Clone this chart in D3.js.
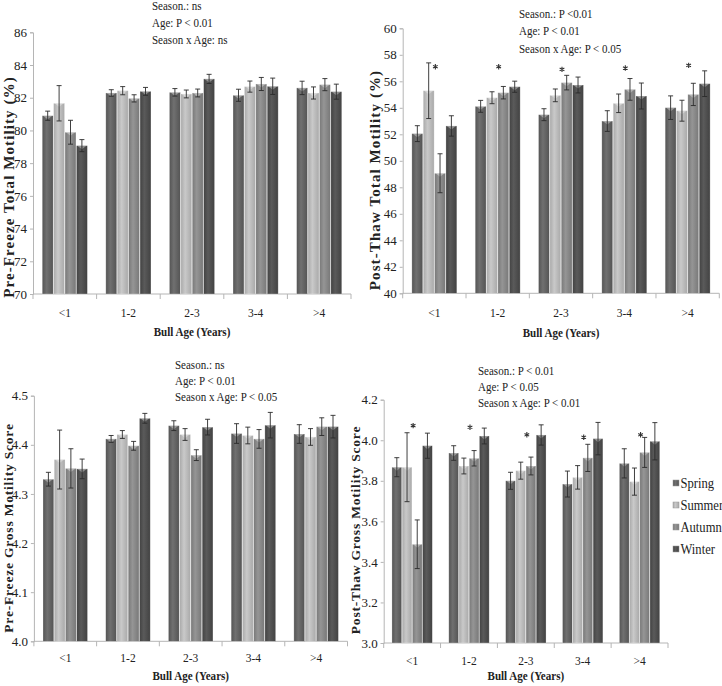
<!DOCTYPE html>
<html>
<head>
<meta charset="utf-8">
<script src="https://cdn.jsdelivr.net/npm/d3@7"></script>
<style>
  body { margin: 0; background: #fff; }
  svg { display: block; }
  svg text { font-family: "Liberation Serif", "DejaVu Serif", serif !important; fill: #222; }
</style>
</head>
<body>
<div id="chart"></div>
<script>
///////////////////////////////////////////////////////////////////////////
//////////////////////////////// Data /////////////////////////////////////
///////////////////////////////////////////////////////////////////////////

var ages = ["<1", "1-2", "2-3", "3-4", ">4"];
var seasons = ["Spring", "Summer", "Autumn", "Winter"];

//Pre-freeze total motility (%), one row per age group, Spring..Winter
var preTotalMean = [
	[80.9, 81.66, 79.89, 79.07],
	[82.29, 82.43, 81.96, 82.39],
	[82.33, 82.23, 82.29, 83.15],
	[82.15, 82.68, 82.84, 82.7],
	[82.6, 82.29, 82.8, 82.37]
];
var preTotalErr = [
	[0.28, 1.08, 0.73, 0.37],
	[0.2, 0.25, 0.22, 0.24],
	[0.23, 0.24, 0.24, 0.28],
	[0.37, 0.34, 0.4, 0.5],
	[0.41, 0.37, 0.37, 0.46]
];

//Post-thaw total motility (%)
var postTotalMean = [
	[52.05, 55.29, 49.06, 52.63],
	[54.11, 54.76, 55.14, 55.59],
	[53.48, 54.94, 55.9, 55.72],
	[53.0, 54.34, 55.39, 54.89],
	[54.01, 53.78, 55.01, 55.82]
];
var postTotalErr = [
	[0.6, 2.1, 1.47, 0.77],
	[0.45, 0.45, 0.47, 0.42],
	[0.45, 0.48, 0.55, 0.6],
	[0.78, 0.7, 0.82, 0.98],
	[0.89, 0.79, 0.84, 0.97]
];
var postTotalStars = [57.1, 57.1, 56.9, 57.0, 57.2];

//Pre-freeze gross motility score
var preGrossMean = [
	[4.33, 4.37, 4.352, 4.351],
	[4.412, 4.421, 4.398, 4.454],
	[4.439, 4.421, 4.379, 4.436],
	[4.423, 4.419, 4.412, 4.44],
	[4.422, 4.416, 4.437, 4.437]
];
var preGrossErr = [
	[0.014, 0.06, 0.04, 0.02],
	[0.007, 0.008, 0.009, 0.01],
	[0.01, 0.012, 0.011, 0.016],
	[0.02, 0.017, 0.019, 0.026],
	[0.019, 0.017, 0.018, 0.023]
];

//Post-thaw gross motility score
var postGrossMean = [
	[3.867, 3.867, 3.487, 3.973],
	[3.937, 3.873, 3.911, 4.021],
	[3.8, 3.85, 3.873, 4.026],
	[3.784, 3.817, 3.913, 4.008],
	[3.886, 3.796, 3.94, 3.995]
];
var postGrossErr = [
	[0.047, 0.17, 0.12, 0.062],
	[0.036, 0.039, 0.038, 0.039],
	[0.042, 0.042, 0.044, 0.05],
	[0.064, 0.058, 0.067, 0.08],
	[0.072, 0.067, 0.074, 0.092]
];
var postGrossStars = [4.072, 4.064, 4.027, 4.015, 4.027];

///////////////////////////////////////////////////////////////////////////
//////////////////////////// Set up the SVG ///////////////////////////////
///////////////////////////////////////////////////////////////////////////

var width = 722, height = 686;

var svg = d3.select("#chart").append("svg")
	.attr("width", width)
	.attr("height", height);

//Bar colours: edge, middle
var seasonColors = {
	Spring: ["#545454", "#707070"],
	Summer: ["#a9a9a9", "#c9c9c9"],
	Autumn: ["#787878", "#959595"],
	Winter: ["#424242", "#5a5a5a"]
};

var defs = svg.append("defs");
seasons.forEach(function(s) {
	var g = defs.append("linearGradient")
		.attr("id", "grad-" + s)
		.attr("x1", 0).attr("y1", 0)
		.attr("x2", 1).attr("y2", 0);
	g.append("stop").attr("offset", "0%").attr("stop-color", seasonColors[s][0]);
	g.append("stop").attr("offset", "40%").attr("stop-color", seasonColors[s][1]);
	g.append("stop").attr("offset", "100%").attr("stop-color", seasonColors[s][0]);
});

var squeeze = 0.88;

//Horizontal text drawn a bit condensed, like the reference
function addText(parent, x, y, str, opts) {
	opts = opts || {};
	return parent.append("text")
		.attr("transform", "translate(" + x + "," + y + ") scale(" + (opts.sx || squeeze) + ",1)")
		.attr("text-anchor", opts.anchor || "start")
		.style("font-size", (opts.size || 12.5) + "px")
		.style("font-weight", opts.bold ? "bold" : null)
		.text(str);
}

//Small six-armed star for the significance marks
var star = d3.symbol().type(d3.symbolAsterisk).size(20);

///////////////////////////////////////////////////////////////////////////
/////////////////////////// Panel settings ////////////////////////////////
///////////////////////////////////////////////////////////////////////////

var panels = [
	{ mean: preTotalMean, err: preTotalErr, x0: 33, x1: 351, yTop: 32.3, yBot: 294,
	  domain: [70, 86], step: 2, fmt: "d",
	  ytitle: "Pre-Freeze Total Motility (%)", ytX: 13.5, ytY: 187, ytSize: 15, ytSpace: 1.1,
	  notes: ["Season.: ns", "Age: P < 0.01", "Season x Age: ns"], nx: 152, ny: 10, nstep: 17,
	  catY: 317, titleY: 336 },
	{ mean: postTotalMean, err: postTotalErr, stars: postTotalStars, x0: 402.7, x1: 719.3, yTop: 28.3, yBot: 293.3,
	  domain: [40, 60], step: 2, fmt: "d",
	  ytitle: "Post-Thaw Total Motility (%)", ytX: 379.5, ytY: 180, ytSize: 15, ytSpace: 1.1,
	  notes: ["Season.: P <0.01", "Age: P < 0.01", "Season x Age: P < 0.05"], nx: 519, ny: 17.5, nstep: 17.5,
	  catY: 317, titleY: 337 },
	{ mean: preGrossMean, err: preGrossErr, x0: 33.9, x1: 347.5, yTop: 395.7, yBot: 641.3,
	  domain: [4.0, 4.5], step: 0.1, fmt: ".1f",
	  ytitle: "Pre-Freeze Gross Motility Score", ytX: 13, ytY: 528, ytSize: 13.5, ytSpace: 0.8,
	  notes: ["Season.: ns", "Age: P < 0.01", "Season x Age: P < 0.05"], nx: 175, ny: 369, nstep: 16,
	  catY: 662, titleY: 680 },
	{ mean: postGrossMean, err: postGrossErr, stars: postGrossStars, x0: 383.7, x1: 668, yTop: 399.7, yBot: 643,
	  domain: [3.0, 4.2], step: 0.2, fmt: ".1f",
	  ytitle: "Post-Thaw Gross Motility Score", ytX: 360, ytY: 530, ytSize: 13.5, ytSpace: 0.8,
	  notes: ["Season.: P < 0.01", "Age: P < 0.05", "Season x Age: P < 0.01"], nx: 478, ny: 375, nstep: 16,
	  catY: 665, titleY: 680 }
];

panels.forEach(drawPanel);

///////////////////////////////////////////////////////////////////////////
///////////////////////////////// Legend //////////////////////////////////
///////////////////////////////////////////////////////////////////////////

var legend = svg.append("g").attr("class", "legend");
seasons.forEach(function(s, i) {
	var ly = 483.5 + i * 22;
	legend.append("rect")
		.attr("x", 673).attr("y", ly - 3.5)
		.attr("width", 6).attr("height", 6)
		.style("fill", "url(#grad-" + s + ")")
		.style("stroke", "#999").style("stroke-width", 0.5);
	addText(legend, 680.5, ly + 4.5, s, { size: 14, sx: 0.9 });
});

///////////////////////////////////////////////////////////////////////////
////////////////////// Function to draw one panel /////////////////////////
///////////////////////////////////////////////////////////////////////////

function drawPanel(p) {

	var g = svg.append("g");

	var x = d3.scaleBand()
		.domain(ages)
		.range([p.x0, p.x1])
		.paddingInner(0.29)
		.paddingOuter(0.145);

	var xs = d3.scaleBand()
		.domain(seasons)
		.range([0, x.bandwidth()])
		.paddingInner(0.04);

	var y = d3.scaleLinear()
		.domain(p.domain)
		.range([p.yBot, p.yTop]);

	var catStep = (p.x1 - p.x0) / ages.length;

	//Y axis
	var tickVals = d3.range(p.domain[0], p.domain[1] + p.step / 2, p.step);
	var yAxis = g.append("g")
		.attr("transform", "translate(" + p.x0 + ",0)")
		.call(d3.axisLeft(y).tickValues(tickVals).tickFormat(d3.format(p.fmt)).tickSize(3).tickPadding(3));
	yAxis.attr("font-family", null);
	yAxis.select(".domain").attr("stroke", "#b5b5b5");
	yAxis.selectAll(".tick line").attr("stroke", "#b5b5b5");
	yAxis.selectAll(".tick text")
		.style("font-size", "13px")
		.attr("fill", "#333");

	//X axis line and boundary ticks
	g.append("line")
		.attr("x1", p.x0).attr("x2", p.x1)
		.attr("y1", p.yBot).attr("y2", p.yBot)
		.attr("stroke", "#b5b5b5");
	g.selectAll(".xtick")
		.data(d3.range(ages.length + 1))
		.enter().append("line")
		.attr("x1", function(i) { return p.x0 + i * catStep; })
		.attr("x2", function(i) { return p.x0 + i * catStep; })
		.attr("y1", p.yBot).attr("y2", p.yBot + 5)
		.attr("stroke", "#b5b5b5");

	//Category labels
	ages.forEach(function(a) {
		addText(g, x(a) + x.bandwidth() / 2, p.catY, a, { anchor: "middle", size: 13.5, sx: 0.85 });
	});

	//Axis titles
	addText(g, (p.x0 + p.x1) / 2, p.titleY, "Bull Age (Years)", { anchor: "middle", bold: true, size: 13, sx: 0.85 });

	g.append("text")
		.attr("transform", "translate(" + p.ytX + "," + p.ytY + ") rotate(-90)")
		.attr("text-anchor", "middle")
		.style("font-size", p.ytSize + "px")
		.style("font-weight", "bold")
		.style("letter-spacing", p.ytSpace + "px")
		.text(p.ytitle);

	//Bars
	var groups = g.selectAll(".age-group")
		.data(p.mean)
		.enter().append("g")
		.attr("class", "age-group")
		.attr("transform", function(d, i) { return "translate(" + x(ages[i]) + ",0)"; });

	groups.each(function(row, ai) {
		var grp = d3.select(this);
		row.forEach(function(v, si) {
			var s = seasons[si];
			var bx = xs(s), bw = xs.bandwidth();
			var top = y(v);
			grp.append("rect")
				.attr("x", bx).attr("y", top)
				.attr("width", bw).attr("height", p.yBot - top)
				.style("fill", "url(#grad-" + s + ")")
				.style("stroke", "rgba(255,255,255,0.45)")
				.style("stroke-width", 0.6);
			//light cap on top of the cylinder
			grp.append("path")
				.attr("d", "M" + (bx + 0.8) + "," + top + "L" + (bx + bw - 0.8) + "," + top +
					"L" + (bx + bw * 0.5) + "," + (top + 3.5) + "Z")
				.style("fill", "#fff")
				.style("opacity", 0.35);

			//Error bar
			var e = p.err[ai][si];
			var cx = bx + bw / 2;
			var eg = grp.append("g").attr("stroke", "#2a2a2a").attr("stroke-width", 0.9);
			eg.append("line").attr("x1", cx).attr("x2", cx).attr("y1", y(v + e)).attr("y2", y(v - e));
			eg.append("line").attr("x1", cx - 2.5).attr("x2", cx + 2.5).attr("y1", y(v + e)).attr("y2", y(v + e));
			eg.append("line").attr("x1", cx - 2.5).attr("x2", cx + 2.5).attr("y1", y(v - e)).attr("y2", y(v - e));
		});
	});

	//Significance stars
	if (p.stars) {
		p.stars.forEach(function(sv, i) {
			g.append("path")
				.attr("d", star)
				.attr("transform", "translate(" + (x(ages[i]) + x.bandwidth() / 2 + 1) + "," + y(sv) + ")")
				.attr("fill", "none")
				.attr("stroke", "#333")
				.attr("stroke-width", 1.1);
		});
	}

	//Statistics notes
	p.notes.forEach(function(t, i) {
		addText(g, p.nx, p.ny + i * p.nstep, t, { size: 12.5 });
	});
}
</script>
</body>
</html>
